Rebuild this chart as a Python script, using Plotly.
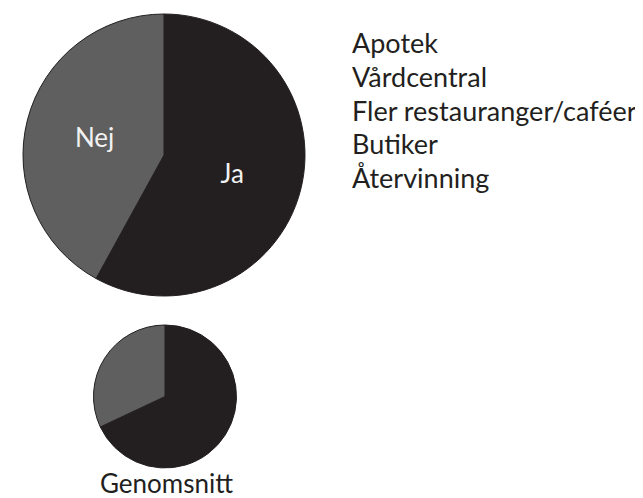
import plotly.graph_objects as go

# andel svar (procent)
labels = ["Ja", "Nej"]
omrade_values = [58, 42]
snitt_values = [68, 32]
colors = ["#231f20", "#5f5f5f"]

items = ["Apotek", "Vårdcentral", "Fler restauranger/caféer", "Butiker", "Återvinning"]
snitt_title = "Genomsnitt"

W, H = 643, 498
OFF = 8  # body-marginalen i html-sidan
font = "Lato"


def px(x):
    return (x - OFF) / W


def py(y):
    return 1 - (y - OFF) / H


fig = go.Figure()

fig.add_trace(go.Pie(
    labels=labels, values=omrade_values, sort=False, direction="clockwise", rotation=0,
    marker=dict(colors=colors, line=dict(color="#231f20", width=1)),
    textinfo="label", textposition="inside", insidetextorientation="horizontal",
    textfont=dict(family=font, size=26, color="#f2f2f2"),
    domain=dict(x=[px(23), px(305)], y=[py(297), py(13)]),
    hoverinfo="label+percent", showlegend=False,
))

fig.add_trace(go.Pie(
    labels=labels, values=snitt_values, sort=False, direction="clockwise", rotation=0,
    marker=dict(colors=colors, line=dict(color="#231f20", width=1)),
    textinfo="none",
    domain=dict(x=[px(93), px(237)], y=[py(468), py(325)]),
    hoverinfo="label+percent", showlegend=False,
))

# textlista till höger
for i, t in enumerate(items):
    fig.add_annotation(
        text=t, x=px(350), y=py(43 + i * 33.6), xref="paper", yref="paper",
        xanchor="left", yanchor="middle", showarrow=False,
        font=dict(family=font, size=27, color="#231f20"),
    )

fig.add_annotation(
    text=snitt_title, x=px(166), y=py(483), xref="paper", yref="paper",
    xanchor="center", yanchor="middle", showarrow=False,
    font=dict(family=font, size=26, color="#231f20"),
)

fig.update_layout(
    width=W, height=H, margin=dict(l=0, r=0, t=0, b=0),
    paper_bgcolor="white", plot_bgcolor="white",
)

fig.write_html("out.html")
